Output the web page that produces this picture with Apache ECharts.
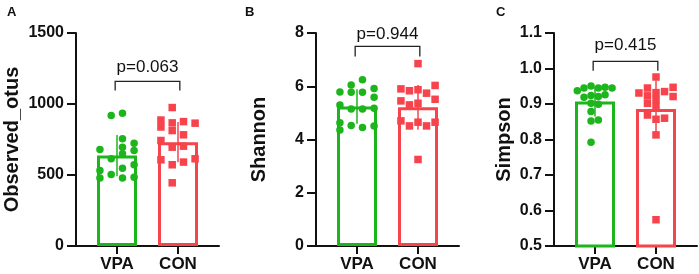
<!DOCTYPE html>
<html>
<head>
<meta charset="utf-8">
<script src="https://cdn.jsdelivr.net/npm/echarts@6/dist/echarts.min.js"></script>
<style>
  html, body { margin: 0; padding: 0; background: #fff; }
  #main { width: 699px; height: 274px; }
</style>
</head>
<body>
<div id="main"></div>
<script>
// groups and panels
const categories = ['VPA', 'CON']
const panelLetters = ['A', 'B', 'C']
const yNames = ['Observed_otus', 'Shannon', 'Simpson']
const yMin = [0, 0, 0.5]
const yMax = [1500, 8, 1.1]
const yStep = [500, 2, 0.1]

// mean and SD of each bar [VPA, CON]
const barMeans = [[637, 731], [5.24, 5.21], [0.907, 0.886]]
const barSD = [[145, 142], [0.65, 0.84], [0.042, 0.08]]

// p value brackets
const pLabels = ['p=0.063', 'p=0.944', 'p=0.415']
const bracketTop = [1160, 7.5, 1.02]
const bracketLeg = [1095, 7.12, 0.994]

// individual points: [x jitter, value]
const otusVPA = [[-0.095, 919], [0.09, 935], [0.09, 755], [-0.28, 680], [0.09, 696], [0.28, 724],
  [0.28, 673], [0.09, 649], [-0.095, 614], [-0.28, 532], [0.09, 548], [0.28, 572],
  [-0.095, 504], [-0.28, 478], [0.09, 478], [0.28, 485]]
const otusCON = [[-0.28, 887], [-0.28, 838], [-0.28, 743], [-0.28, 607], [-0.095, 975], [-0.095, 867],
  [-0.095, 813], [-0.095, 696], [-0.095, 572], [-0.095, 445], [0.09, 876], [0.09, 783],
  [0.09, 703], [0.09, 591], [0.28, 865], [0.28, 614]]
const shannonVPA = [[0.09, 6.24], [-0.095, 6.05], [-0.28, 5.78], [-0.095, 5.77], [0.09, 5.77], [0.28, 5.92],
  [0.28, 5.59], [-0.28, 5.30], [-0.095, 5.15], [0.09, 5.15], [0.28, 5.17], [-0.28, 4.63],
  [-0.28, 4.36], [-0.095, 4.53], [0.09, 4.45], [0.28, 4.51]]
const shannonCON = [[0, 6.85], [-0.28, 5.90], [-0.14, 5.83], [0, 5.87], [0.14, 5.74], [0.28, 6.03],
  [-0.28, 5.45], [-0.14, 5.30], [0, 5.36], [0.28, 5.51], [-0.28, 4.70], [-0.14, 4.51],
  [0, 4.65], [0.14, 4.51], [0.28, 4.65], [0, 3.25]]
const simpsonVPA = [[-0.29, 0.937], [-0.18, 0.945], [-0.065, 0.951], [0.055, 0.945], [0.165, 0.947], [0.28, 0.945],
  [-0.18, 0.919], [-0.065, 0.924], [0.055, 0.921], [0.165, 0.926], [-0.065, 0.902], [0.055, 0.899],
  [-0.065, 0.879], [-0.065, 0.852], [0.055, 0.855], [-0.065, 0.792]]
const simpsonCON = [[0, 0.976], [-0.14, 0.945], [-0.28, 0.931], [0, 0.932], [0.14, 0.935], [0.28, 0.947],
  [0.28, 0.921], [-0.14, 0.923], [0, 0.912], [-0.14, 0.902], [0, 0.893], [-0.14, 0.869],
  [0, 0.857], [0.14, 0.860], [0, 0.813], [0, 0.574]]

const pointsVPA = [otusVPA, shannonVPA, simpsonVPA]
const pointsCON = [otusCON, shannonCON, simpsonCON]

// layout
const FONT = '"Liberation Sans", Arial, sans-serif'
const GREEN = '#1cb51c'
const RED = '#f6434c'
const groupColors = [GREEN, RED]
const gridLeft = [76, 316, 554]
const nameGap = [54, 47, 40]
const pLift = [14, 12, 16]

const chart = echarts.init(document.getElementById('main'))

const grids = [], xAxes = [], yAxes = [], series = [], titles = []

for (let i = 0; i < 3; i++) {
  grids.push({ left: gridLeft[i], top: 33, width: 143, height: 213 })
  titles.push({
    text: panelLetters[i], left: [2, 240, 491][i], top: 1,
    textStyle: { fontFamily: FONT, fontSize: 13, fontWeight: 'bold', color: '#111' }
  })
  xAxes.push({
    gridIndex: i, type: 'value', min: 0.328, max: 2.672,
    splitLine: { show: false },
    axisLine: { lineStyle: { color: '#111', width: 2 } },
    axisTick: { customValues: [1, 2], length: 8, lineStyle: { color: '#111', width: 2 } },
    axisLabel: {
      customValues: [1, 2], margin: 10,
      formatter: v => categories[Math.round(v) - 1],
      fontFamily: FONT, fontSize: 17, fontWeight: 'bold', color: '#111'
    }
  })
  yAxes.push({
    gridIndex: i, type: 'value', min: yMin[i], max: yMax[i], interval: yStep[i],
    name: yNames[i], nameLocation: 'middle', nameGap: nameGap[i],
    nameTextStyle: { fontFamily: FONT, fontSize: 20, fontWeight: 'bold', color: '#111' },
    splitLine: { show: false },
    axisLine: { show: true, lineStyle: { color: '#111', width: 2 } },
    axisTick: { show: true, length: 9, lineStyle: { color: '#111', width: 2 } },
    axisLabel: {
      margin: 12, fontFamily: FONT, fontSize: 16, fontWeight: 'bold', color: '#111',
      formatter: v => i === 2 ? v.toFixed(1) : String(v)
    }
  })

  series.push({
    type: 'bar', xAxisIndex: i, yAxisIndex: i, barWidth: 40, z: 2, silent: true,
    itemStyle: { color: '#fff', borderWidth: 3 },
    data: barMeans[i].map((m, k) => ({ value: [k + 1, m], itemStyle: { borderColor: groupColors[k] } }))
  })

  series.push({
    type: 'custom', xAxisIndex: i, yAxisIndex: i, z: 3, silent: true, clip: false,
    encode: { x: 0, y: 1 },
    data: barMeans[i].map((m, k) => [k + 1, m, barSD[i][k]]),
    renderItem: (params, api) => {
      const x = api.value(0), m = api.value(1), s = api.value(2)
      const a = api.coord([x, m + s]), b = api.coord([x, m - s])
      return {
        type: 'line',
        shape: { x1: a[0], y1: a[1], x2: b[0], y2: b[1] },
        style: { stroke: groupColors[params.dataIndex], lineWidth: 1.5 }
      }
    }
  })

  series.push({
    type: 'scatter', xAxisIndex: i, yAxisIndex: i, z: 4, silent: true,
    symbol: 'circle', symbolSize: 7.5, itemStyle: { color: GREEN, opacity: 1 },
    data: pointsVPA[i].map(p => [1 + p[0], p[1]])
  })
  series.push({
    type: 'scatter', xAxisIndex: i, yAxisIndex: i, z: 4, silent: true,
    symbol: 'rect', symbolSize: 7.5, itemStyle: { color: RED, opacity: 1 },
    data: pointsCON[i].map(p => [2 + p[0], p[1]])
  })

  series.push({
    type: 'custom', xAxisIndex: i, yAxisIndex: i, z: 5, silent: true, clip: false,
    encode: { x: [0, 1], y: [2, 3] },
    data: [[0.97, 2.03, bracketTop[i], bracketLeg[i]]],
    renderItem: (params, api) => {
      const lt = api.coord([api.value(0), api.value(2)])
      const rt = api.coord([api.value(1), api.value(2)])
      const lb = api.coord([api.value(0), api.value(3)])
      const rb = api.coord([api.value(1), api.value(3)])
      return {
        type: 'group',
        children: [
          {
            type: 'polyline',
            shape: { points: [lb, lt, rt, rb] },
            style: { stroke: '#222', fill: null, lineWidth: 1.3 }
          },
          {
            type: 'text',
            x: (lt[0] + rt[0]) / 2, y: lt[1] - pLift[i],
            style: {
              text: pLabels[i], fontFamily: FONT, fontSize: 17, fill: '#111',
              align: 'center', verticalAlign: 'middle'
            }
          }
        ]
      }
    }
  })
}

chart.setOption({
  animation: false,
  backgroundColor: '#fff',
  title: titles,
  grid: grids,
  xAxis: xAxes,
  yAxis: yAxes,
  series: series
})
</script>
</body>
</html>
